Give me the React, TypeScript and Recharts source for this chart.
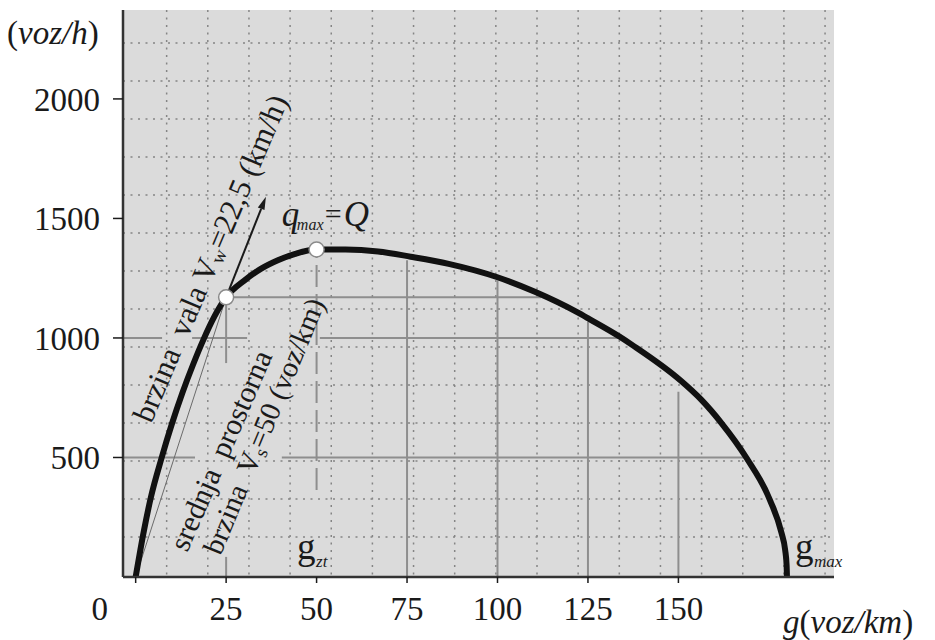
import React from 'react';
import {
  ComposedChart,
  Line,
  XAxis,
  YAxis,
  CartesianGrid,
  ReferenceLine,
  ReferenceDot,
  Label,
} from 'recharts';

// ---------- data ----------
// density g (voz/km) and flow q (voz/h) along the fundamental diagram
const densityG = [0, 2.3, 4.2, 7.2, 10, 12.9, 15.9, 18.7, 21.7, 25, 30.1, 34.7, 39.3, 44.1, 50, 58, 67, 76, 86.5, 100, 110.5, 122, 125.3, 133.7, 137.4, 150.6, 156.3, 162, 168.7, 175.3, 178.5, 179.5, 179.9, 180];
const flowQ = [0, 195, 333, 500, 640, 770, 890, 992, 1088, 1170, 1241, 1290, 1325, 1352, 1370, 1370, 1362, 1340, 1310, 1254, 1192, 1108, 1080, 1006, 969, 822, 742, 642, 501, 322, 184, 113, 50, 0];

const xTicks = [0, 25, 50, 75, 100, 125, 150];
const yTicks = [500, 1000, 1500, 2000];

// key points
const pointSpeed = { g: 25, q: 1170 }; // point on the curve used for V_s and V_w
const pointMax = { g: 50, q: 1370 }; // q_max = Q at g_zt
const gMax = 180;
const waveArrowTip = { g: 36, q: 1591 };

// gray construction lines (data coordinates)
const X_DOMAIN: [number, number] = [-3.5, 193];
const Y_DOMAIN: [number, number] = [0, 2372];
const guideHorizontal = [
  { y: 500, from: X_DOMAIN[0], to: 16.4 },
  { y: 500, from: 40.4, to: 168.7 },
  { y: 1000, from: X_DOMAIN[0], to: 7.3 },
  { y: 1000, from: 15.6, to: 30.8 },
  { y: 1000, from: 50.9, to: 134.2 },
  { y: 1170, from: 25, to: 112 },
];
const guideVertical = [
  { x: 25, from: 0, to: 84 },
  { x: 25, from: 895, to: 1170 },
  { x: 75, from: 0, to: 1325 },
  { x: 100, from: 0, to: 1240 },
  { x: 125, from: 0, to: 1068 },
  { x: 150, from: 0, to: 775 },
];
const dashedVertical = { x: 50, from: 364, to: 1370 };

const curveRows = densityG.map((g, i) => ({ g, q: flowQ[i] }));

// ---------- styling ----------
const SERIF = '"Liberation Serif", "Times New Roman", Times, serif';
const INK = '#1a1a1a';
const GUIDE = '#8e8e8e';
const PAPER = '#dbdbdb';
const DOTS = '#858585';

// graph-paper dotted grid (pixel layout of the background paper)
const gridVertical = Array.from({ length: 17 }, (_, k) => 125.5 + 41.15 * (k + 1));
const gridHorizontal = Array.from({ length: 14 }, (_, k) => 575 - 38 * (k + 1));

const XTick = (props: any) => {
  const { x, y, payload } = props;
  const v = payload.value;
  return (
    <text
      x={v === 0 ? x - 36 : x}
      y={y}
      dy="0.71em"
      textAnchor="middle"
      fontSize={33}
      fontFamily={SERIF}
      fill={INK}
    >
      {v}
    </text>
  );
};

const YUnit = (props: any) => {
  const vb = props.viewBox || { x: 0, y: 10 };
  return (
    <text x={vb.x + 7} y={vb.y + 34} fontSize={33} fontFamily={SERIF} fill={INK}>
      <tspan>(</tspan>
      <tspan fontStyle="italic">voz/h</tspan>
      <tspan>)</tspan>
    </text>
  );
};

const XUnit = (props: any) => {
  const vb = props.viewBox || { x: 123, y: 577, width: 711 };
  return (
    <text x={vb.x + vb.width - 51} y={vb.y + 56} fontSize={33} fontFamily={SERIF} fill={INK}>
      <tspan fontStyle="italic">g</tspan>
      <tspan>(</tspan>
      <tspan fontStyle="italic">voz/km</tspan>
      <tspan>)</tspan>
    </text>
  );
};

const ArrowShape = (p: any) => {
  const { x1, y1, x2, y2 } = p;
  const ang = Math.atan2(y2 - y1, x2 - x1);
  const len = 13;
  const half = 3.6;
  const bx = x2 - len * Math.cos(ang);
  const by = y2 - len * Math.sin(ang);
  const px = -Math.sin(ang) * half;
  const py = Math.cos(ang) * half;
  return (
    <g>
      <line x1={x1} y1={y1} x2={bx} y2={by} stroke={INK} strokeWidth={2} />
      <polygon points={`${x2},${y2} ${bx + px},${by + py} ${bx - px},${by - py}`} fill={INK} />
    </g>
  );
};

const rotatedText = (content: React.ReactNode, angle: number, size: number) => (p: any) => (
  <text
    x={p.cx}
    y={p.cy}
    transform={`rotate(${angle} ${p.cx} ${p.cy})`}
    textAnchor="middle"
    dominantBaseline="central"
    fontSize={size}
    fontFamily={SERIF}
    fill={INK}
    style={{ whiteSpace: 'pre' }}
  >
    {content}
  </text>
);

const QmaxLabel = (p: any) => (
  <g fontFamily={SERIF} fill={INK}>
    <text x={p.cx} y={p.cy} fontSize={35} fontStyle="italic">q</text>
    <text x={p.cx + 15} y={p.cy + 4} fontSize={16} fontStyle="italic">max</text>
    <text x={p.cx + 43} y={p.cy - 2} fontSize={30}>=</text>
    <text x={p.cx + 62} y={p.cy} fontSize={35} fontStyle="italic">Q</text>
  </g>
);

const GzLabel = (sub: string) => (p: any) => (
  <g fontFamily={SERIF} fill={INK}>
    <text x={p.cx} y={p.cy} fontSize={37}>g</text>
    <text x={p.cx + 19} y={p.cy + 8} fontSize={17} fontStyle="italic">{sub}</text>
  </g>
);

const waveText = (
  <>
    <tspan>{'brzina  vala V'}</tspan>
    <tspan dy={7} fontSize={19}>w</tspan>
    <tspan dy={-7}>{'=22,5 (km/h)'}</tspan>
  </>
);
const spaceText1 = <tspan>{'srednja  prostorna'}</tspan>;
const spaceText2 = (
  <>
    <tspan>{'brzina  V'}</tspan>
    <tspan dy={7} fontSize={19}>s</tspan>
    <tspan dy={-7}>{'=50 (voz/km)'}</tspan>
  </>
);

export default function App() {
  return (
    <div style={{ position: 'absolute', left: 0, top: 0, width: 935, height: 640, background: '#fff' }}>
      <ComposedChart
        width={935}
        height={640}
        data={curveRows}
        margin={{ top: 10, right: 101, bottom: 0, left: 0 }}
      >
        <CartesianGrid
          fill={PAPER}
          fillOpacity={1}
          stroke={DOTS}
          strokeWidth={1.5}
          strokeDasharray="2 5.5"
          verticalPoints={gridVertical}
          horizontalPoints={gridHorizontal}
        />
        <XAxis
          dataKey="g"
          type="number"
          domain={X_DOMAIN}
          ticks={xTicks}
          interval={0}
          allowDataOverflow
          height={63}
          tickSize={6}
          tickMargin={14}
          tick={XTick}
          tickLine={{ stroke: INK, strokeWidth: 1.5 }}
          axisLine={{ stroke: '#333', strokeWidth: 2.5 }}
        >
          <Label content={XUnit} />
        </XAxis>
        <YAxis
          type="number"
          domain={Y_DOMAIN}
          ticks={yTicks}
          interval={0}
          allowDataOverflow
          width={123}
          tickSize={10}
          tickMargin={13}
          tick={{ fontSize: 33, fontFamily: SERIF, fill: INK }}
          tickLine={{ stroke: INK, strokeWidth: 1.5 }}
          axisLine={{ stroke: '#333', strokeWidth: 2.5 }}
        >
          <Label content={YUnit} />
        </YAxis>

        {guideHorizontal.map((s, i) => (
          <ReferenceLine
            key={`h${i}`}
            segment={[{ x: s.from, y: s.y }, { x: s.to, y: s.y }]}
            stroke={GUIDE}
            strokeWidth={2}
          />
        ))}
        {guideVertical.map((s, i) => (
          <ReferenceLine
            key={`v${i}`}
            segment={[{ x: s.x, y: s.from }, { x: s.x, y: s.to }]}
            stroke={GUIDE}
            strokeWidth={2}
          />
        ))}
        <ReferenceLine
          segment={[{ x: dashedVertical.x, y: dashedVertical.from }, { x: dashedVertical.x, y: dashedVertical.to }]}
          stroke={GUIDE}
          strokeWidth={2}
          strokeDasharray="22 7"
        />
        <ReferenceLine
          segment={[{ x: 0, y: 0 }, { x: pointSpeed.g, y: pointSpeed.q }]}
          stroke="#6a6a6a"
          strokeWidth={1}
        />

        <Line
          type="monotone"
          dataKey="q"
          stroke="#111"
          strokeWidth={6}
          dot={false}
          activeDot={false}
          isAnimationActive={false}
        />

        <ReferenceLine
          segment={[{ x: pointSpeed.g, y: pointSpeed.q }, { x: waveArrowTip.g, y: waveArrowTip.q }]}
          shape={ArrowShape}
        />

        <ReferenceDot x={pointSpeed.g} y={pointSpeed.q} r={7.5} fill="#fff" stroke="#8a8a8a" strokeWidth={1.5} />
        <ReferenceDot x={pointMax.g} y={pointMax.q} r={7.5} fill="#fff" stroke="#8a8a8a" strokeWidth={1.5} />

        <ReferenceDot x={20.5} y={1334} r={0} shape={rotatedText(waveText, -67, 31)} />
        <ReferenceDot x={23.3} y={531} r={0} shape={rotatedText(spaceText1, -66.5, 30)} />
        <ReferenceDot x={35.4} y={632} r={0} shape={rotatedText(spaceText2, -67.5, 29)} />
        <ReferenceDot x={40.4} y={1468} r={0} shape={QmaxLabel} />
        <ReferenceDot x={44.6} y={75} r={0} shape={GzLabel('zt')} />
        <ReferenceDot x={gMax + 2.2} y={75} r={0} shape={GzLabel('max')} />
      </ComposedChart>
    </div>
  );
}
